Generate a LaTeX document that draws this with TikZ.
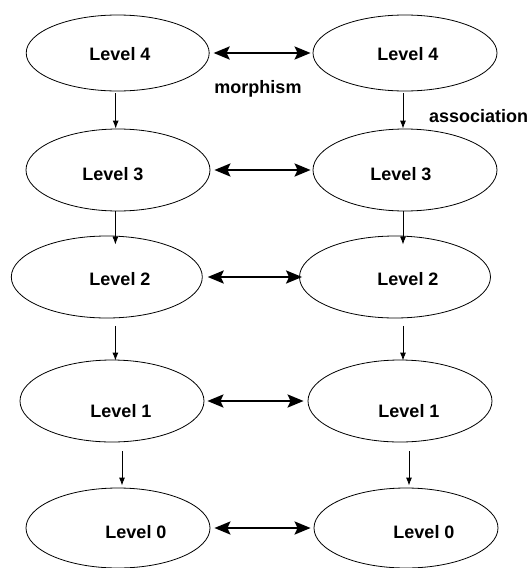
\documentclass[tikz,border=0pt]{standalone}
\usepackage{fontspec}
\setmainfont{Liberation Sans}
\usetikzlibrary{arrows.meta, shapes.geometric}
\tikzset{%
	level node/.style={
		ellipse,
		draw,
		line width=0.8pt,
		inner sep=0pt,
		minimum width=184pt,
		minimum height=82pt
	},
	level text/.style={
		font=\bfseries\fontsize{18}{22}\selectfont,
		inner sep=0pt
	},
}
\begin{document}
\begin{tikzpicture}[
			x=1pt, y=-1pt,
			refine/.style={draw, line width=0.9pt, -{Latex[length=8pt, width=6pt]}},
			morph/.style={draw, line width=2.5pt, {Stealth[length=16pt, width=13pt, inset=3pt]}-{Stealth[length=16pt, width=13pt, inset=3pt]}}
			]
			\useasboundingbox (0,0) rectangle (529,568);
			
			% Ellipses, left and right column
			\node[level node, minimum width=183pt, minimum height=76pt] (L4) at (117.7,53) {};
			\node[level node, minimum width=184pt, minimum height=76pt] (R4) at (405,53) {};
			\node[level node] (L3) at (118,170) {};
			\node[level node] (R3) at (405,170) {};
			\node[level node, minimum width=191pt] (L2) at (106.8,277) {};
			\node[level node, minimum width=191pt] (R2) at (395,277) {};
			\node[level node] (L1) at (112,401) {};
			\node[level node] (R1) at (400,401) {};
			\node[level node, minimum height=80pt] (L0) at (118,528) {};
			\node[level node, minimum height=80pt] (R0) at (406,528) {};
			
			% Labels
			\node[level text] (tL4) at (120,54) {Level 4};
			\node[level text] (tR4) at (408,54) {Level 4};
			\node[level text] (tL3) at (113,174) {Level 3};
			\node[level text] (tR3) at (401,174) {Level 3};
			\node[level text] (tL2) at (120,279) {Level 2};
			\node[level text] (tR2) at (408,279) {Level 2};
			\node[level text] (tL1) at (121,411) {Level 1};
			\node[level text] (tR1) at (409,411) {Level 1};
			\node[level text] (tL0) at (136,532) {Level 0};
			\node[level text] (tR0) at (424,532) {Level 0};
			\node[level text, anchor=base] (morphism) at (258,93) {morphism};
			\node[level text, anchor=base west] (association) at (429,122) {association};
			
			% Morphisms between the columns
			\draw[morph, shorten <=4pt, shorten >=2pt] (L4.east) -- (R4.west);
			\draw[morph, shorten <=4pt, shorten >=2pt] (L3.east) -- (R3.west);
			\draw[morph, shorten <=5pt, shorten >=-3pt] (L2.east) -- (R2.west);
			\draw[morph, shorten <=3pt, shorten >=4pt] (L1.east) -- (R1.west);
			\draw[morph, shorten <=4pt, shorten >=3pt] (L0.east) -- (R0.west);
			
			% Association down each column
			\draw[refine, shorten <=2pt] ([xshift=-2pt]L4.south) -- ([xshift=-2pt]L4.south |- L3.north);
			\draw[refine, shorten <=2pt] ([xshift=-2pt]R4.south) -- ([xshift=-2pt]R4.south |- R3.north);
			\draw[refine, shorten >=-9pt] ([xshift=-2.6pt]L3.south) -- ([xshift=-2.6pt]L3.south |- L2.north);
			\draw[refine, shorten >=-9pt] ([xshift=-2pt]R3.south) -- ([xshift=-2pt]R3.south |- R2.north);
			\draw[refine, shorten <=7.5pt, shorten >=-1pt] ([xshift=8.6pt]L2.south) -- ([xshift=8.6pt]L2.south |- L1.north);
			\draw[refine, shorten <=7.5pt, shorten >=-1pt] ([xshift=8pt]R2.south) -- ([xshift=8pt]R2.south |- R1.north);
			\draw[refine, shorten <=9pt, shorten >=2pt] ([xshift=10pt]L1.south) -- ([xshift=10pt]L1.south |- L0.north);
			\draw[refine, shorten <=9pt, shorten >=2pt] ([xshift=9pt]R1.south) -- ([xshift=9pt]R1.south |- R0.north);
			
\end{tikzpicture}
\end{document}
